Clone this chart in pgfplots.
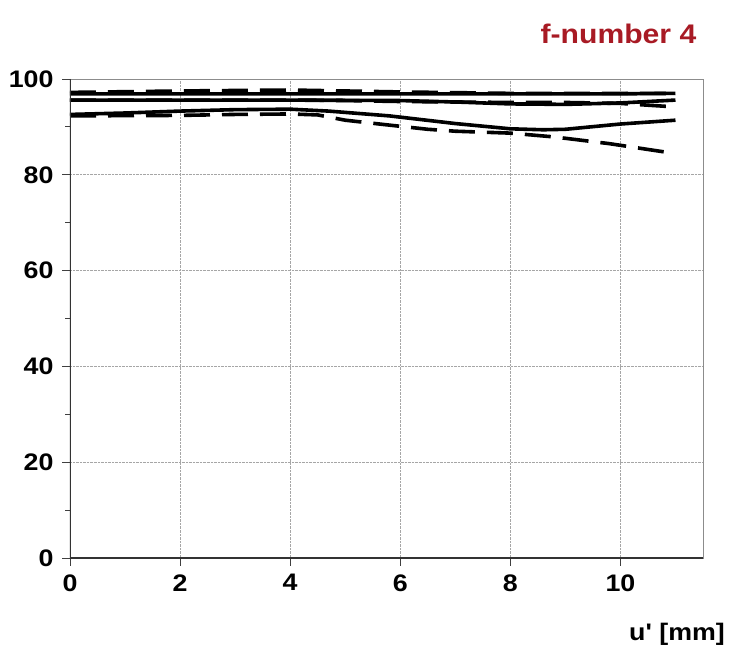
\documentclass[border=0pt]{standalone}
\usepackage{fontspec}
\setmainfont{Liberation Sans}
\newfontfamily\widefont[FakeStretch=1.12]{Liberation Sans}
\usepackage{pgfplots}
\pgfplotsset{compat=1.18}
\definecolor{titlered}{RGB}{168,26,36}
\definecolor{framegray}{RGB}{140,140,140}
\tikzset{
    mtf/.style={black, solid, mark=none, line width=3.6bp, line join=round},
    mtfd/.style={mtf, dash pattern=on 26bp off 12bp},
}

\begin{document}
\begin{tikzpicture}
\begin{axis}[
    scale only axis,
    width=633bp, height=479bp,
    xmin=0, xmax=11.5, ymin=0, ymax=100,
    xtick={0,2,...,10}, ytick={0,20,...,100},
    minor ytick={10,30,...,90},
    xtick pos=left, ytick pos=left,
    tick align=outside,
    major tick length=8bp, minor tick length=5bp,
    tick style={black!75, line width=0.8bp},
    grid=major,
    grid style={densely dotted, gray!70, line width=0.6bp},
    axis line style={framegray, line width=0.8bp},
    /pgf/number format/assume math mode=true,
    ticklabel style={font=\widefont\fontsize{24}{24}\selectfont\bfseries},
    yticklabel style={xshift=-5bp},
    xticklabel style={yshift=-5bp},
    xlabel={u{\char39} [mm]},
    xlabel style={font=\widefont\fontsize{24}{24}\selectfont\bfseries,
        at={(axis description cs:1.04,-0.16)}, anchor=east},
    title={f-number 4},
    title style={font=\widefont\fontsize{27}{27}\selectfont\bfseries, text=titlered,
        at={(axis description cs:0.995,1.081)}, anchor=east},
]
% solid, top
\addplot[mtf] table {
x y
0 96.9
2 96.9
4 96.9
6 96.9
8 96.9
9 96.9
10 96.9
11 97.0
};
% dashed, top
\addplot[mtfd] table {
x y
0 97.2
2 97.5
4 97.7
6 97.3
8 97.0
9 97.0
10 97.0
11 97.0
};
% solid, second
\addplot[mtf] table {
x y
0 95.6
2 95.6
4 95.6
6 95.5
7 95.2
8 94.8
9 94.7
10 95.0
11 95.6
};
% dashed, second
\addplot[mtfd] table {
x y
0 95.6
2 95.6
4 95.6
5 95.5
6 95.3
8 95.1
9 95.1
10 94.9
10.95 94.2
};
% solid, third
\addplot[mtf] table {
x y
0 92.6
1 92.9
2 93.3
3 93.6
4 93.7
4.7 93.3
5.8 92.3
7 90.7
8 89.6
8.6 89.4
9 89.5
10 90.6
11 91.4
};
% dashed, third
\addplot[mtfd] table {
x y
0 92.3
2 92.4
3 92.6
4 92.7
4.5 92.5
5 91.4
5.7 90.5
6.5 89.5
7 89.1
8 88.7
8.8 87.9
9.8 86.5
10.9 84.6
};
\draw[black!80, line width=1.4bp] (rel axis cs:0,1) -- (rel axis cs:0,0) -- (rel axis cs:1,0);
\coordinate (bl) at (rel axis cs:0,0);
\coordinate (tr) at (rel axis cs:1,1);
\end{axis}
\pgfresetboundingbox
\path ([shift={(-70bp,-104bp)}]bl) rectangle ([shift={(37bp,79bp)}]tr);
\end{tikzpicture}
\end{document}
